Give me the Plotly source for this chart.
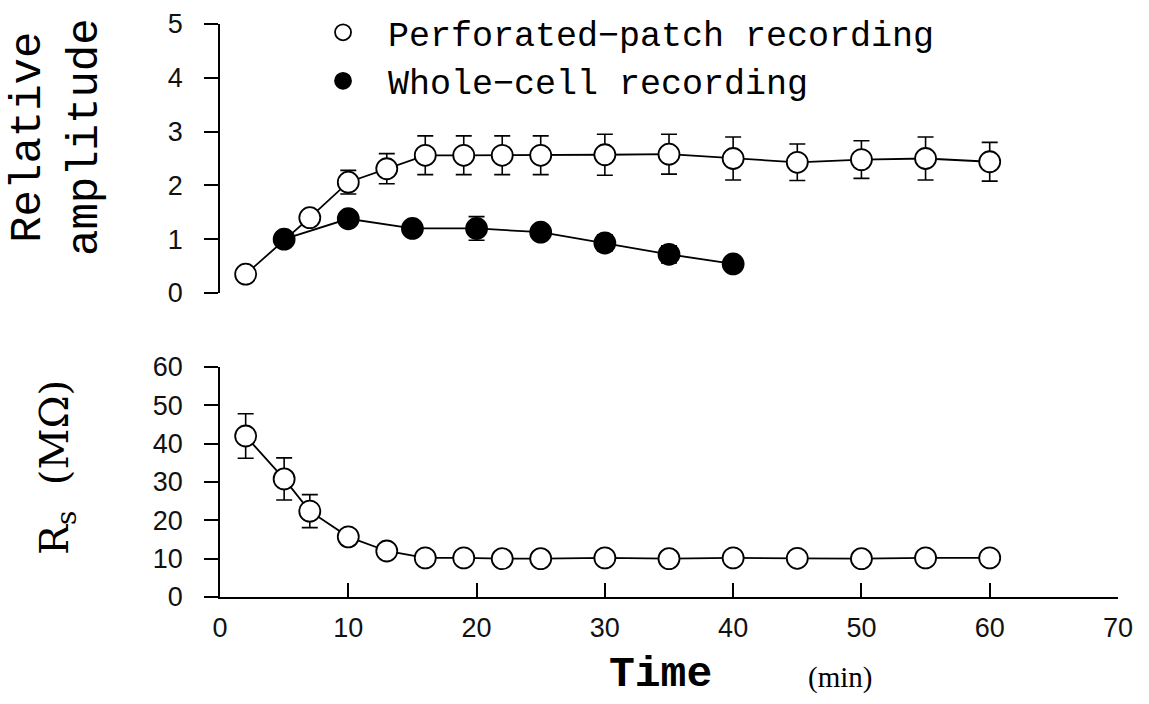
import plotly.graph_objects as go

# ---- data ----
perf_t = [2, 7, 10, 13, 16, 19, 22, 25, 30, 35, 40, 45, 50, 55, 60]
perf_amp = [0.35, 1.40, 2.06, 2.31, 2.56, 2.56, 2.56, 2.56, 2.57, 2.58, 2.50, 2.43, 2.48, 2.50, 2.44]
perf_amp_err = [0.05, 0.05, 0.22, 0.28, 0.36, 0.36, 0.36, 0.36, 0.38, 0.37, 0.40, 0.34, 0.35, 0.40, 0.36]

wc_t = [5, 10, 15, 20, 25, 30, 35, 40]
wc_amp = [1.00, 1.38, 1.20, 1.20, 1.13, 0.93, 0.72, 0.54]
wc_amp_err = [0.08, 0.10, 0.08, 0.22, 0.10, 0.15, 0.16, 0.08]

rs_t = [2, 5, 7, 10, 13, 16, 19, 22, 25, 30, 35, 40, 45, 50, 55, 60]
rs_val = [42.0, 30.8, 22.4, 15.7, 12.0, 10.2, 10.2, 10.0, 10.0, 10.2, 10.0, 10.2, 10.1, 10.0, 10.2, 10.2]
rs_err = [5.8, 5.5, 4.3, 1.0, 1.0, 1.0, 1.0, 1.0, 1.0, 1.0, 1.0, 1.0, 1.0, 1.0, 1.0, 1.0]

amp_ticks = [0, 1, 2, 3, 4, 5]
rs_ticks = [0, 10, 20, 30, 40, 50, 60]
time_ticks = [0, 10, 20, 30, 40, 50, 60, 70]

names = ["Perforated\u2212patch recording", "Whole\u2212cell recording"]

# ---- styling ----
BLACK = "#000000"
TICKFONT = dict(family="Liberation Sans, Arial, sans-serif", size=27, color="#111111")
MS = 21
LW = 1.8

fig = go.Figure()

err_style = dict(type="data", visible=True, color=BLACK, thickness=1.6, width=8)


def add_series(x, y, err, name, fill, xa, ya, legend):
    # connecting line (kept out of the legend so the legend shows only the symbol)
    fig.add_trace(go.Scatter(
        x=x, y=y, mode="lines", showlegend=False, hoverinfo="skip",
        line=dict(color=BLACK, width=LW), xaxis=xa, yaxis=ya,
    ))
    fig.add_trace(go.Scatter(
        x=x, y=y, name=name, mode="markers", showlegend=legend,
        marker=dict(symbol="circle", size=MS, color=fill, line=dict(color=BLACK, width=LW)),
        error_y=dict(array=err, **err_style),
        xaxis=xa, yaxis=ya,
    ))


add_series(perf_t, perf_amp, perf_amp_err, names[0], "white", "x", "y", True)
add_series(wc_t, wc_amp, wc_amp_err, names[1], BLACK, "x", "y", True)
add_series(rs_t, rs_val, rs_err, "Rs", "white", "x2", "y2", False)

TOP_DOM = [0.5305, 1.0]
BOT_DOM = [0.0, 0.4014]

fig.update_layout(
    width=1149, height=704,
    margin=dict(l=220, r=31, t=24, b=107, autoexpand=False),
    paper_bgcolor="white", plot_bgcolor="white",
    showlegend=True,
    legend=dict(
        x=0.0869, y=1.0366, xanchor="left", yanchor="top",
        font=dict(family="Liberation Mono, Courier New, monospace", size=35, color=BLACK),
        itemwidth=80, bgcolor="rgba(0,0,0,0)", borderwidth=0,
        tracegroupgap=0,
    ),
    xaxis=dict(domain=[0, 1], range=[0, 70], visible=False, anchor="y"),
    yaxis=dict(
        domain=TOP_DOM, range=[0, 5], anchor="x",
        tickvals=amp_ticks, ticks="outside", ticklen=14, tickwidth=1.5, tickcolor=BLACK,
        showline=True, linecolor=BLACK, linewidth=1.6,
        showgrid=False, zeroline=False, tickfont=TICKFONT, ticklabelstandoff=16,
    ),
    xaxis2=dict(
        domain=[0, 1], range=[0, 70], anchor="y2",
        tickvals=time_ticks, ticks="inside", ticklen=14, tickwidth=1.5, tickcolor=BLACK,
        showline=True, linecolor=BLACK, linewidth=1.6,
        showgrid=False, zeroline=False, tickfont=TICKFONT, ticklabelstandoff=6,
    ),
    yaxis2=dict(
        domain=BOT_DOM, range=[0, 60], anchor="x2",
        tickvals=rs_ticks, ticks="outside", ticklen=14, tickwidth=1.5, tickcolor=BLACK,
        showline=True, linecolor=BLACK, linewidth=1.6,
        showgrid=False, zeroline=False, tickfont=TICKFONT, ticklabelstandoff=16,
    ),
)

annots = [
    dict(text="Relative<br>amplitude", x=-0.1815, y=0.8028, textangle=-90,
         font=dict(family="Liberation Mono, Courier New, monospace", size=44, color=BLACK)),
    dict(text="R<sub>s</sub>  (M\u03a9)", x=-0.1815, y=0.225, textangle=-90,
         font=dict(family="DejaVu Serif, serif", size=40, color=BLACK)),
    dict(text="<b>Time</b>", x=0.491, y=-0.135,
         font=dict(family="Liberation Mono, Courier New, monospace", size=43, color=BLACK)),
    dict(text="(min)", x=0.690, y=-0.141,
         font=dict(family="Liberation Serif, Times New Roman, serif", size=29, color=BLACK)),
]
for a in annots:
    fig.add_annotation(xref="paper", yref="paper", showarrow=False,
                       xanchor="center", yanchor="middle", **a)

fig.write_html("out.html")
